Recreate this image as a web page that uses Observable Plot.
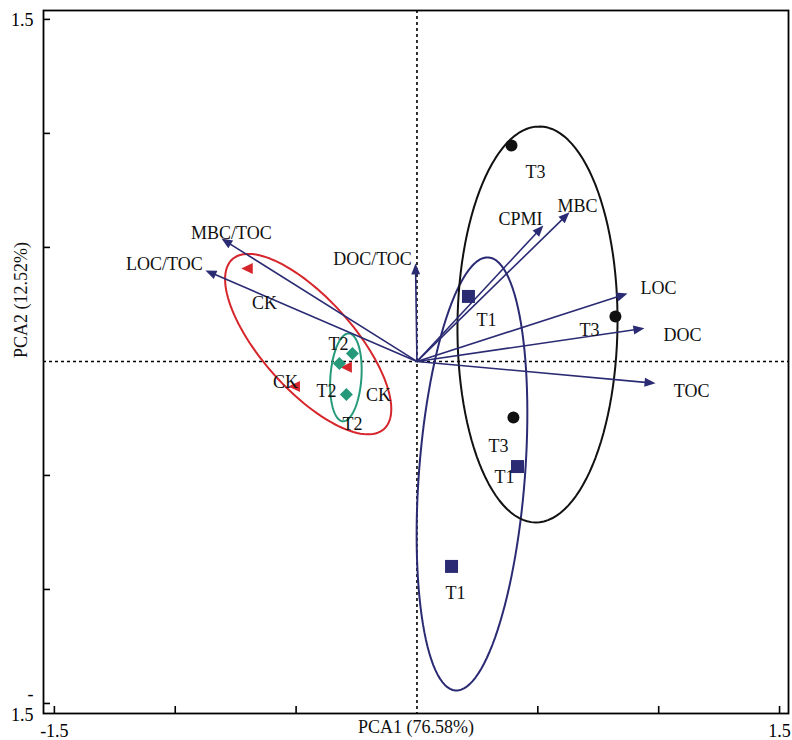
<!DOCTYPE html>
<html><head><meta charset="utf-8">
<script src="https://cdn.jsdelivr.net/npm/d3@7"></script>
<script src="https://cdn.jsdelivr.net/npm/@observablehq/plot@0.6"></script>
<style>body{margin:0;background:#fff}</style>
</head><body><div id="chart"></div>
<script>
// ---- data (PCA scores and loadings) ----
const sampleGroup = ["CK","CK","CK","T2","T2","T2","T1","T1","T1","T3","T3","T3"];
const sampleX = [-0.702,-0.507,-0.292,-0.267,-0.321,-0.292,0.213,0.416,0.143,0.391,0.821,0.399];
const sampleY = [0.408,-0.110,-0.026,0.035,-0.009,-0.145,0.285,-0.461,-0.899,0.947,0.197,-0.246];
const sampleLabelX = [-0.631,-0.544,-0.159,-0.325,-0.374,-0.267,0.288,0.362,0.159,0.490,0.714,0.337];
const sampleLabelY = [0.254,-0.092,-0.149,0.075,-0.132,-0.276,0.180,-0.509,-1.018,0.829,0.136,-0.373];

const variables = ["MBC/TOC","LOC/TOC","DOC/TOC","CPMI","MBC","LOC","DOC","TOC"];
const loadX = [-0.809,-0.875,-0.006,0.523,0.631,0.871,0.941,0.987];
const loadY = [0.539,0.399,0.430,0.596,0.654,0.298,0.145,-0.096];
const varLabelX = [-0.768,-1.045,-0.184,0.428,0.664,0.999,1.099,1.136];
const varLabelY = [0.561,0.425,0.447,0.623,0.680,0.320,0.114,-0.132];

// confidence ellipses: centre and two half-axis vectors (data units)
const ellipseGroup = ["CK","T2","T1","T3"];
const ellipseCX = [-0.450,-0.294,0.2276,0.4986];
const ellipseCY = [0.076,-0.070,-0.4934,0.1623];
const ellipseUX = [0.314,0.0128,0.0683,0.0083];
const ellipseUY = [-0.372,0.1925,0.9496,0.8684];
const ellipseVX = [-0.140,0.064,0.2186,0.331];
const ellipseVY = [-0.135,-0.0047,-0.0177,-0.0035];

const xTicks = [-1.5,-1,-0.5,0.5,1,1.5];
const yTicks = [1.5,1,0.5,-0.5,-1,-1.5];
const xTickLabels = [-1.5,1.5];
const yTickLabels = [1.5,-1.5];
const xTitle = "PCA1 (76.58%)";
const yTitle = "PCA2 (12.52%)";

// ---- layout / style ----
const W = 792, H = 740;
const mL = 43, mR = 4, mT = 10, mB = 27;
const xDomain = [-1.545, 1.537], yDomain = [-1.544, 1.539];
const kx = (W - mL - mR) / (xDomain[1] - xDomain[0]);
const ky = (H - mT - mB) / (yDomain[1] - yDomain[0]);
const color = {CK:"#d6262c", T2:"#25997a", T1:"#2b2b74", T3:"#111111"};
const navy = "#2b2b74";
const FONT = "Liberation Serif, Times New Roman, serif";

const poly = pts => ({draw(ctx){ ctx.moveTo(pts[0][0],pts[0][1]); for (let i=1;i<pts.length;i++) ctx.lineTo(pts[i][0],pts[i][1]); ctx.closePath(); }});
const symbols = {
  CK: poly([[-6,0],[5.5,-5.5],[5.5,5.5]]),
  T2: poly([[0,-6.5],[6.5,0],[0,6.5],[-6.5,0]]),
  T1: poly([[-6.5,-6.5],[6.5,-6.5],[6.5,6.5],[-6.5,6.5]]),
  T3: {draw(ctx){ ctx.moveTo(6,0); ctx.arc(0,0,6,0,2*Math.PI); ctx.closePath(); }}
};
const headSymbol = poly([[0,0],[-11,-4.5],[-11,4.5]]);

const samples = sampleGroup.map((g,i)=>({g, x:sampleX[i], y:sampleY[i], lx:sampleLabelX[i], ly:sampleLabelY[i]}));
const vecs = variables.map((v,i)=>({v, x:loadX[i], y:loadY[i], lx:varLabelX[i], ly:varLabelY[i]}));
const ellipsePts = [];
ellipseGroup.forEach((g,i)=>{
  for (let k=0;k<=120;k++){
    const t = 2*Math.PI*k/120;
    ellipsePts.push({g, x: ellipseCX[i] + Math.cos(t)*ellipseUX[i] + Math.sin(t)*ellipseVX[i],
                        y: ellipseCY[i] + Math.cos(t)*ellipseUY[i] + Math.sin(t)*ellipseVY[i]});
  }
});

const plot = Plot.plot({
  width: W, height: H,
  marginLeft: mL, marginRight: mR, marginTop: mT, marginBottom: mB,
  x: {domain: xDomain},
  y: {domain: yDomain},
  style: {fontFamily: FONT, background: "#fff", color: "#000"},
  marks: [
    Plot.ruleX([0], {stroke:"#000", strokeWidth:1.6, strokeDasharray:"3,3"}),
    Plot.ruleY([0], {stroke:"#000", strokeWidth:1.6, strokeDasharray:"3,3"}),
    ...ellipseGroup.map(g => Plot.line(ellipsePts.filter(d=>d.g===g), {x:"x", y:"y", stroke: color[g], strokeWidth:2})),
    Plot.link(vecs, {x1: d=>0, y1: d=>0, x2: d=>d.x - 0.02*d.x/Math.hypot(d.x,d.y), y2: d=>d.y - 0.02*d.y/Math.hypot(d.x,d.y), stroke: navy, strokeWidth:1.6}),
    Plot.dot(vecs, {x:"x", y:"y", symbol: headSymbol, r: 5, fill: navy, stroke: "none",
      rotate: d => Math.atan2(-d.y*ky, d.x*kx)*180/Math.PI}),
    ...ellipseGroup.map(g => Plot.dot(samples.filter(d=>d.g===g), {x:"x", y:"y", symbol: symbols[g], r:5, fill: color[g], stroke:"none"})),
    Plot.text(samples, {x:"lx", y:"ly", text:"g", fontSize:18, fontFamily: FONT, fill:"#111"}),
    Plot.text(vecs, {x:"lx", y:"ly", text:"v", fontSize:18, fontFamily: FONT, fill:"#111"}),
    Plot.tickX(xTicks, {x: d=>d, insetTop: (H-mT-mB)-7, stroke:"#000", strokeWidth:1.6}),
    Plot.tickY(yTicks, {y: d=>d, insetRight: (W-mL-mR)-7, stroke:"#000", strokeWidth:1.6}),
    Plot.axisX(xTickLabels, {tickSize:0, tickPadding:11, fontSize:18, fontFamily: FONT, label:null,
      tickFormat: d => (d<0?"-":"") + Math.abs(d).toFixed(1)}),
    Plot.axisY(yTickLabels, {tickSize:0, tickPadding:10, fontSize:18, fontFamily: FONT, label:null, lineHeight:1.2,
      tickFormat: d => d<0 ? "-\n" + Math.abs(d).toFixed(1) : d.toFixed(1)}),
    Plot.text([xTitle], {frameAnchor:"bottom", dy:19, text: d=>d, fontSize:18, fontFamily: FONT, fill:"#111"}),
    Plot.text([yTitle], {frameAnchor:"left", dx:-22, dy:-4, rotate:-90, text: d=>d, fontSize:18, fontFamily: FONT, fill:"#111"}),
    Plot.frame({stroke:"#000", strokeWidth:1.8})
  ]
});
document.getElementById("chart").appendChild(plot);
</script>
</body></html>
